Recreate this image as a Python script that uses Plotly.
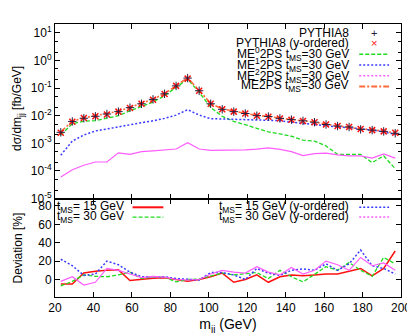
import plotly.graph_objects as go
from plotly.subplots import make_subplots

# bin centres (6 GeV bins from 20 to 200 GeV)
mjj = [23, 29, 35, 41, 47, 53, 59, 65, 71, 77, 83, 89, 95, 101, 107,
       113, 119, 125, 131, 137, 143, 149, 155, 161, 167, 173, 179, 185, 191, 197]

# ---------- top panel: d sigma / d m_jj [fb/GeV] ----------
pythia8 = [2.5e-3, 6.2e-3, 8.1e-3, 9.5e-3, 1.15e-2, 1.4e-2, 1.95e-2, 2.7e-2, 3.9e-2, 6.2e-2,
           0.12, 0.23, 0.08, 0.027, 0.017, 0.014, 0.012, 0.010, 0.0093, 0.0080,
           0.0072, 0.0065, 0.0058, 0.0048, 0.0042, 0.0039, 0.0032, 0.0030, 0.0027, 0.0023]
pythia8_y = [2.4e-3, 6.0e-3, 8.3e-3, 9.6e-3, 1.1e-2, 1.4e-2, 1.9e-2, 2.7e-2, 3.8e-2, 6.1e-2,
             0.12, 0.22, 0.08, 0.027, 0.017, 0.014, 0.012, 0.010, 0.0092, 0.0079,
             0.0071, 0.0064, 0.0058, 0.0048, 0.0042, 0.0039, 0.0033, 0.0030, 0.0027, 0.0024]
me0 = [2.0e-3, 5.1e-3, 6.3e-3, 6.6e-3, 8.1e-3, 1.0e-2, 1.5e-2, 2.1e-2, 3.1e-2, 5.3e-2,
       0.107, 0.21, 0.07, 0.02, 0.0095, 0.0062, 0.0047, 0.0036, 0.0026, 0.0022,
       0.0018, 0.0013, 0.0012, 0.0008, 0.0004, 0.0004, 0.0004, 0.0002, 0.00035, 0.00012]
me1 = [3.7e-4, 1.2e-3, 2.0e-3, 2.8e-3, 3.3e-3, 4.0e-3, 4.8e-3, 5.6e-3, 6.5e-3, 8.0e-3,
       1.05e-2, 1.65e-2, 1.05e-2, 7.8e-3, 7.6e-3, 7.4e-3, 7.2e-3, 7.1e-3, 6.9e-3, 6.6e-3,
       5.8e-3, 5.2e-3, 4.8e-3, 4.3e-3, 3.9e-3, 3.7e-3, 3.4e-3, 3.0e-3, 2.6e-3, 2.1e-3]
me2 = [6e-5, 1.1e-4, 1.6e-4, 2.1e-4, 2.1e-4, 4.5e-4, 4.0e-4, 5.0e-4, 5.3e-4, 5.7e-4,
       6.2e-4, 1.05e-3, 6.2e-4, 5.5e-4, 5.6e-4, 5.6e-4, 5.8e-4, 6.2e-4, 6.8e-4, 6.0e-4,
       5.0e-4, 3.6e-4, 4.2e-4, 4.4e-4, 3.8e-4, 3.5e-4, 3.5e-4, 2.9e-4, 4.1e-4, 2.9e-4]
me2ps = [2.6e-3, 6.3e-3, 8.3e-3, 9.8e-3, 1.18e-2, 1.45e-2, 2.0e-2, 2.75e-2, 4.0e-2, 6.3e-2,
         0.125, 0.235, 0.082, 0.028, 0.0175, 0.0143, 0.0122, 0.0102, 0.0095, 0.0081,
         0.0073, 0.0066, 0.0059, 0.0049, 0.0043, 0.0040, 0.0033, 0.0031, 0.0028, 0.0024]

# ---------- bottom panel: deviation [%] ----------
dev_15 = [-5, -5, 7, 9, 10, 10.5, -1, 0.5, 1.5, 2, 0, -2, 0, 3, 7,
          -3, 0, 5, -3, 3, 5, 4, 5, 6, 6, 9, 12, 4, 12, 31]
dev_30 = [-7, -2, 5, 3.5, 3, 5, 8, 1, 3, 2.5, -2.5, 0, 0.5, 4, 7,
          5, 6.5, 7.5, 1, 10, 3, -2.5, 5.5, 14, 10, 18.5, 10, 3.5, 24, 17]
dev_15_y = [22, 15, 4.5, 6, 20, 16, 8, 3, 3, 3, 1, 0, -0.5, 7.5, 7.5,
            5, 0, 12, 7, 4.5, 10, 11.5, 10, 17, 10, 17, 32, 15, 12, 6]
dev_30_y = [-2, 3, -6, -3, 12, 10, 6, 2, 3.5, 2.5, 0, -0.5, 0, 6, 10,
            8, 7, 14, 8, 5, 13, 6, 10, 20, 16, 10, 24, 15, 18, 10]

top_ticks = [1e-5, 1e-4, 1e-3, 1e-2, 1e-1, 1, 10]
top_ticktext = ["10<sup>-5</sup>", "10<sup>-4</sup>", "10<sup>-3</sup>", "10<sup>-2</sup>",
                "10<sup>-1</sup>", "10<sup>0</sup>", "10<sup>1</sup>"]

GREEN = "#1fdc1f"
BLUE = "#3a3aff"
MAGENTA = "#ff5cff"
ORANGE = "#ff6a3a"
RED = "#ff1010"
GDASH = "4px,2px"
BDOT = "2px,2px"

fig = make_subplots(rows=2, cols=1, shared_xaxes=True, vertical_spacing=0,
                    row_heights=[0.6393, 0.3607])

fig.add_trace(go.Scatter(x=mjj, y=me0, mode="lines",
                         line=dict(color=GREEN, width=1.3, dash=GDASH)), row=1, col=1)
fig.add_trace(go.Scatter(x=mjj, y=me1, mode="lines",
                         line=dict(color=BLUE, width=1.5, dash=BDOT)), row=1, col=1)
fig.add_trace(go.Scatter(x=mjj, y=me2, mode="lines",
                         line=dict(color=MAGENTA, width=1.2)), row=1, col=1)
fig.add_trace(go.Scatter(x=mjj, y=me2ps, mode="lines",
                         line=dict(color=ORANGE, width=1.6, dash="6px,2px,2px,2px")), row=1, col=1)
fig.add_trace(go.Scatter(x=mjj, y=pythia8_y, mode="markers",
                         marker=dict(symbol="x-thin", size=6, color=RED,
                                     line=dict(color=RED, width=1.5))), row=1, col=1)
fig.add_trace(go.Scatter(x=mjj, y=pythia8, mode="markers",
                         marker=dict(symbol="cross-thin", size=6, color="#202040",
                                     line=dict(color="#202040", width=1))), row=1, col=1)

fig.add_hline(y=0, line=dict(color="black", width=1.5, dash="5px,4px"), row=2, col=1)
fig.add_trace(go.Scatter(x=mjj, y=dev_15, mode="lines",
                         line=dict(color=RED, width=1.5)), row=2, col=1)
fig.add_trace(go.Scatter(x=mjj, y=dev_30, mode="lines",
                         line=dict(color=GREEN, width=1.3, dash=GDASH)), row=2, col=1)
fig.add_trace(go.Scatter(x=mjj, y=dev_15_y, mode="lines",
                         line=dict(color=BLUE, width=1.5, dash=BDOT)), row=2, col=1)
fig.add_trace(go.Scatter(x=mjj, y=dev_30_y, mode="lines",
                         line=dict(color=MAGENTA, width=1.2)), row=2, col=1)

axis_common = dict(showline=True, linecolor="black", linewidth=1, mirror="ticks",
                   ticks="inside", ticklen=5, tickcolor="black", showgrid=False,
                   zeroline=False)

fig.update_xaxes(range=[20, 200], dtick=20, tick0=20, **axis_common)
fig.update_xaxes(showticklabels=False, row=1, col=1)
fig.update_xaxes(row=2, col=1, title=dict(text="m<sub>jj</sub> (GeV)", standoff=4))

fig.update_yaxes(type="log", range=[-5, 1.32], tickvals=top_ticks, ticktext=top_ticktext,
                 minor=dict(ticks="inside", ticklen=3, tickcolor="black", dtick="D2"),
                 row=1, col=1, **axis_common)
fig.update_yaxes(range=[-19, 88], tickvals=[0, 20, 40, 60, 80],
                 row=2, col=1, **axis_common)

# legends drawn gnuplot-style: text right-aligned, sample to the right
def px(x):
    return (x - 47) / 348.0


def py(y):
    return (296 - y) / 280.0


annotations = []
shapes = []


def key_text(text, xr, y):
    annotations.append(dict(text=text, x=px(xr), y=py(y), xref="paper", yref="paper",
                            xanchor="right", yanchor="middle", showarrow=False,
                            font=dict(size=12)))


def key_mark(text, x, y, color):
    annotations.append(dict(text=text, x=px(x), y=py(y), xref="paper", yref="paper",
                            xanchor="center", yanchor="middle", showarrow=False,
                            font=dict(size=11, color=color)))


def key_line(x0, x1, y, color, dash, width=1.5):
    shapes.append(dict(type="line", xref="paper", yref="paper", x0=px(x0), x1=px(x1),
                       y0=py(y), y1=py(y), line=dict(color=color, dash=dash, width=width)))


key_text("PYTHIA8", 345, 25)
key_mark("+", 368, 25, "#202040")
key_text("PYTHIA8 (y-ordered)", 345, 36)
key_mark("×", 368, 36, RED)
key_text("ME<sup>0</sup>2PS t<sub>MS</sub>=30 GeV", 345, 47)
key_line(353, 383, 47, GREEN, GDASH, 1.3)
key_text("ME<sup>1</sup>2PS t<sub>MS</sub>=30 GeV", 345, 58)
key_line(353, 383, 58, BLUE, BDOT)
key_text("ME<sup>2</sup>2PS t<sub>MS</sub>=30 GeV", 345, 69)
key_line(353, 383, 69, MAGENTA, BDOT)
key_text("ME2PS t<sub>MS</sub>=30 GeV", 345, 80)
key_line(353, 383, 80, ORANGE, "6px,2px,2px,2px", 2)

key_text("t<sub>MS</sub>= 15 GeV", 118, 204)
key_line(125, 156, 204, RED, "solid", 2)
key_text("t<sub>MS</sub>= 30 GeV", 118, 214)
key_line(125, 156, 214, GREEN, GDASH, 1.3)
key_text("t<sub>MS</sub>= 15 GeV (y-ordered)", 345, 204)
key_line(353, 383, 204, BLUE, BDOT)
key_text("t<sub>MS</sub>= 30 GeV (y-ordered)", 345, 214)
key_line(353, 383, 214, MAGENTA, BDOT)

# axis titles
annotations.append(dict(text="dσ/dm<sub>jj</sub> [fb/GeV]", x=px(10), y=py(103),
                        xref="paper", yref="paper", textangle=-90, showarrow=False,
                        xanchor="center", yanchor="middle", font=dict(size=12)))
annotations.append(dict(text="Deviation [%]", x=px(10), y=py(246),
                        xref="paper", yref="paper", textangle=-90, showarrow=False,
                        xanchor="center", yanchor="middle", font=dict(size=12)))

fig.update_layout(
    width=415, height=333,
    margin=dict(l=47, r=20, t=16, b=37),
    paper_bgcolor="white",
    plot_bgcolor="white",
    showlegend=False,
    font=dict(family="Liberation Sans", size=12, color="black"),
    annotations=annotations,
    shapes=list(fig.layout.shapes) + shapes,
)

fig.write_html("out.html")
